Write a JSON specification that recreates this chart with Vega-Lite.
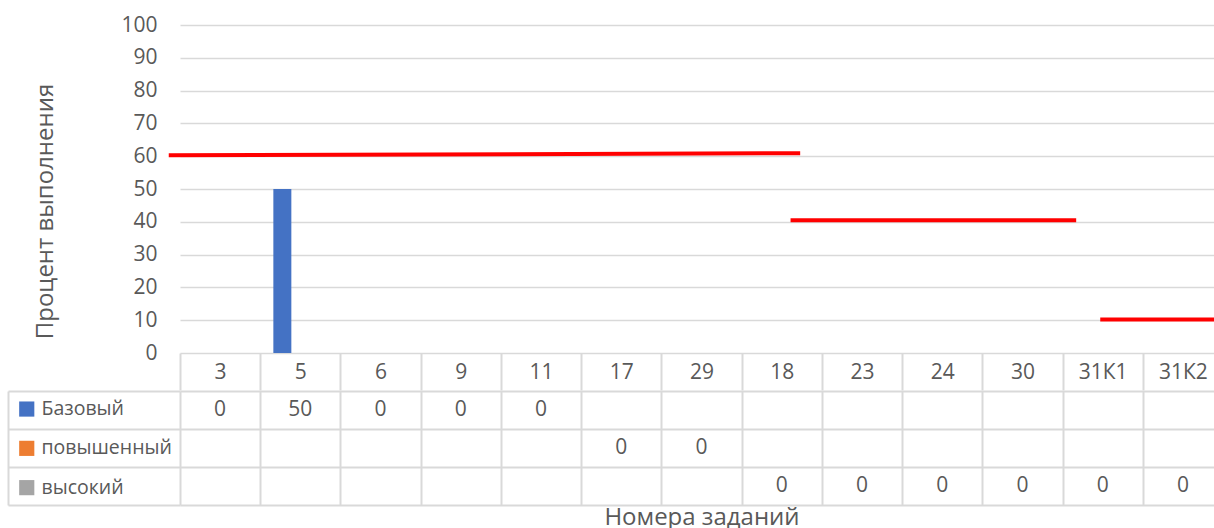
{
  "$schema": "https://vega.github.io/schema/vega-lite/v6.json",
  "padding": {"left": 7, "top": 14, "right": 0, "bottom": 0},
  "bounds": "flush",
  "spacing": 38,
  "datasets": {
    "cells": [
      {"task": "3", "series": "Базовый", "value": 0},
      {"task": "5", "series": "Базовый", "value": 50},
      {"task": "6", "series": "Базовый", "value": 0},
      {"task": "9", "series": "Базовый", "value": 0},
      {"task": "11", "series": "Базовый", "value": 0},
      {"task": "17", "series": "повышенный", "value": 0},
      {"task": "29", "series": "повышенный", "value": 0},
      {"task": "18", "series": "высокий", "value": 0},
      {"task": "23", "series": "высокий", "value": 0},
      {"task": "24", "series": "высокий", "value": 0},
      {"task": "30", "series": "высокий", "value": 0},
      {"task": "31К1", "series": "высокий", "value": 0},
      {"task": "31К2", "series": "высокий", "value": 0}
    ],
    "targets": [
      {"x0": -0.14, "x1": 7.73, "y0": 60.3, "y1": 60.9},
      {"x0": 7.61, "x1": 11.17, "y0": 40.5, "y1": 40.5},
      {"x0": 11.47, "x1": 13.3, "y0": 10.2, "y1": 10.2}
    ]
  },
  "vconcat": [
    {
      "width": 1043,
      "height": 328,
      "layer": [
        {
          "data": {"name": "cells"},
          "mark": {"type": "bar"},
          "encoding": {
            "x": {
              "field": "task", "type": "nominal",
              "scale": {"domain": ["3","5","6","9","11","17","29","18","23","24","30","31К1","31К2"], "paddingInner": 0, "paddingOuter": 0},
              "axis": {"orient": "bottom", "tickBand": "extent", "ticks": true, "tickSize": 37, "tickColor": "#D9D9D9", "tickWidth": 2, "domain": false, "labelPadding": -17.5, "labelBaseline": "middle", "labelAngle": 0, "labelOverlap": false, "title": null, "grid": false}
            },
            "xOffset": {
              "field": "series", "type": "nominal",
              "scale": {"domain": ["Базовый", "повышенный", "высокий"], "paddingInner": 0, "paddingOuter": 0.729}
            },
            "y": {
              "field": "value", "type": "quantitative",
              "scale": {"domain": [0, 100], "nice": false},
              "axis": {"values": [0,10,20,30,40,50,60,70,80,90,100], "tickCount": 11, "labelOverlap": false, "grid": true, "gridColor": "#D9D9D9", "gridWidth": 1.5, "ticks": false, "domain": false, "labelPadding": 23, "labelBaseline": "middle", "title": "Процент выполнения", "titleFontSize": 24, "titleX": -135, "titleY": 186, "titleAngle": -90, "titleBaseline": "middle", "titleAlign": "center"}
            },
            "color": {
              "field": "series", "type": "nominal",
              "scale": {"domain": ["Базовый", "повышенный", "высокий"], "range": ["#4472C4", "#ED7D31", "#A5A5A5"]},
              "legend": {"orient": "none", "legendX": -163, "legendY": 374.3, "title": null, "symbolType": "square", "symbolSize": 230, "symbolStrokeWidth": 0, "labelFontSize": 19.5, "labelColor": "#595959", "labelFont": "Open Sans", "rowPadding": 18.3, "labelOffset": 5, "padding": 0}
            }
          }
        },
        {
          "data": {"name": "targets"},
          "mark": {"type": "rule", "color": "#FF0000", "strokeWidth": 4, "strokeCap": "butt"},
          "encoding": {
            "x": {"field": "x0", "type": "quantitative", "scale": {"domain": [0, 13], "nice": false, "zero": false}, "axis": null},
            "x2": {"field": "x1"},
            "y": {
              "field": "y0", "type": "quantitative", "scale": {"domain": [0, 100], "nice": false},
              "axis": {"values": [0,10,20,30,40,50,60,70,80,90,100], "tickCount": 11, "labelOverlap": false, "grid": true, "gridColor": "#D9D9D9", "gridWidth": 1.5, "ticks": false, "domain": false, "labelPadding": 23, "labelBaseline": "middle", "title": "Процент выполнения", "titleFontSize": 24, "titleX": -135, "titleY": 186, "titleAngle": -90, "titleBaseline": "middle", "titleAlign": "center"}
            },
            "y2": {"field": "y1"}
          }
        }
      ],
      "resolve": {"scale": {"x": "independent"}}
    },
    {
      "width": 1043,
      "height": 114,
      "data": {"name": "cells"},
      "layer": [
        {
          "mark": {"type": "text", "fontSize": 21, "font": "Open Sans", "color": "#595959"},
          "encoding": {
            "x": {
              "field": "task", "type": "nominal",
              "scale": {"domain": ["3","5","6","9","11","17","29","18","23","24","30","31К1","31К2"], "paddingInner": 0, "paddingOuter": 0},
              "axis": {"orient": "bottom", "labels": false, "ticks": false, "domain": false, "grid": true, "tickBand": "extent", "gridColor": "#D9D9D9", "gridWidth": 2, "title": "Номера заданий", "titleFontSize": 24, "titlePadding": 0}
            },
            "y": {
              "field": "series", "type": "nominal",
              "scale": {"domain": ["Базовый", "повышенный", "высокий"], "paddingInner": 0, "paddingOuter": 0},
              "axis": {"orient": "left", "labels": false, "ticks": true, "tickSize": 172, "tickBand": "extent", "tickColor": "#D9D9D9", "tickWidth": 2, "grid": true, "gridColor": "#D9D9D9", "gridWidth": 2, "domain": false, "title": null}
            },
            "text": {"field": "value", "type": "quantitative"}
          }
        },
        {
          "mark": {"type": "text", "text": ""},
          "encoding": {
            "y": {
              "field": "series", "type": "nominal",
              "axis": {"orient": "left", "offset": 172, "labels": false, "ticks": false, "grid": false, "domain": true, "domainColor": "#D9D9D9", "domainWidth": 2, "title": null}
            }
          }
        }
      ],
      "resolve": {"axis": {"y": "independent"}}
    }
  ],
  "config": {
    "view": {"stroke": null},
    "font": "Open Sans",
    "legend": {"symbolSize": 230, "symbolType": "square"},
    "axis": {"labelFont": "Open Sans", "labelFontSize": 21, "labelColor": "#595959", "titleFont": "Open Sans", "titleFontSize": 24, "titleColor": "#595959", "titleFontWeight": "normal"},
    "text": {"font": "Open Sans"}
  }
}
